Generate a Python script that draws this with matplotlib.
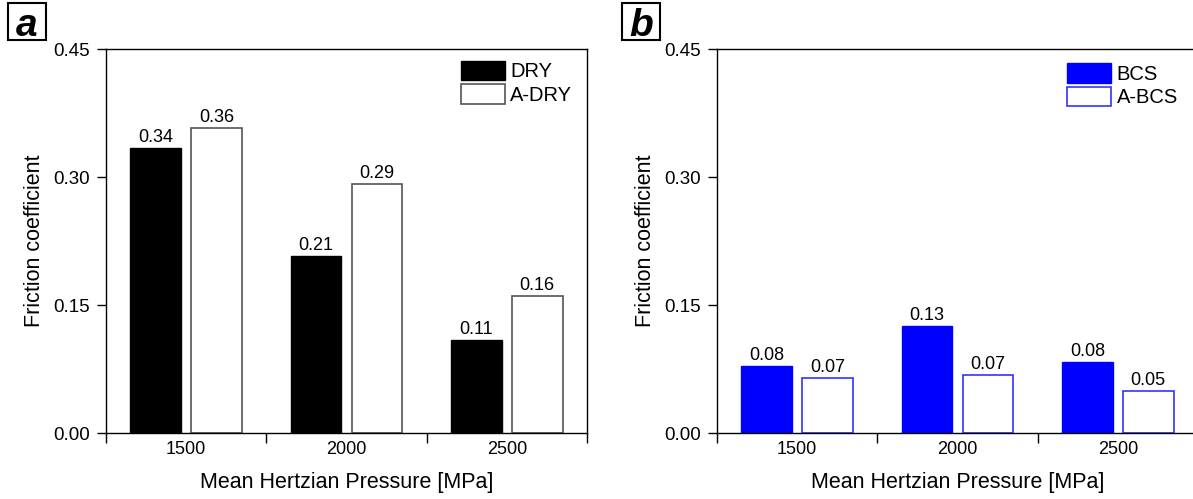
import numpy as np
import matplotlib.pyplot as plt
from matplotlib.patches import Rectangle
from matplotlib.ticker import FixedLocator, NullFormatter

plt.rcParams['font.family'] = ['Liberation Sans', 'DejaVu Sans']

# data
pressures = ['1500', '2000', '2500']

dry = [0.334, 0.207, 0.109]
a_dry = [0.357, 0.292, 0.160]
dry_labels = ['0.34', '0.21', '0.11']
a_dry_labels = ['0.36', '0.29', '0.16']

bcs = [0.0785, 0.125, 0.083]
a_bcs = [0.064, 0.068, 0.049]
bcs_labels = ['0.08', '0.13', '0.08']
a_bcs_labels = ['0.07', '0.07', '0.05']

yticks = [0.00, 0.15, 0.30, 0.45]

W, H = 1193, 499


def panel_letter(letter, x0, y0, x1, y1):
    # boxed panel letter, pixel coords from the top left
    fig.patches.append(Rectangle((x0 / W, 1 - y1 / H), (x1 - x0) / W, (y1 - y0) / H,
                                 transform=fig.transFigure, facecolor='white',
                                 edgecolor='black', linewidth=1.5))
    fig.text((x0 + x1) / 2 / W, 1 - (y0 + y1) / 2 / H, letter, fontsize=28,
             fontweight='bold', fontstyle='italic', ha='center', va='center_baseline')


def draw_panel(ax, v1, v2, l1, l2, name1, name2, fill, edge2, leg_xy):
    x = np.arange(len(pressures)) + 0.5
    w = 0.317
    off = 0.19
    b1 = ax.bar(x - off, v1, w, color=fill, edgecolor=fill, linewidth=1, label=name1)
    b2 = ax.bar(x + off, v2, w, color='white', edgecolor=edge2, linewidth=1.2, label=name2)
    for bars, labs in ((b1, l1), (b2, l2)):
        for r, s in zip(bars, labs):
            ax.annotate(s, (r.get_x() + r.get_width() / 2, r.get_height()),
                        xytext=(0, 1.5), textcoords='offset points',
                        ha='center', va='bottom', fontsize=13)

    ax.set_xlim(0, len(pressures))
    ax.set_ylim(0, 0.45)
    ax.set_yticks(yticks)
    ax.set_yticklabels([f'{t:.2f}' for t in yticks], fontsize=13.5)
    ax.tick_params(axis='y', direction='out', length=6.5, width=1, pad=5, right=False)

    # tick marks at group boundaries, labels at group centres
    ax.xaxis.set_major_locator(FixedLocator(np.arange(len(pressures) + 1)))
    ax.xaxis.set_major_formatter(NullFormatter())
    ax.xaxis.set_minor_locator(FixedLocator(x))
    ax.set_xticklabels(pressures, minor=True, fontsize=13)
    ax.tick_params(axis='x', which='major', direction='out', length=7.5, width=1, top=False)
    ax.tick_params(axis='x', which='minor', length=0, pad=6)

    for sp in ax.spines.values():
        sp.set_linewidth(1)

    ax.set_xlabel('Mean Hertzian Pressure [MPa]', fontsize=15.5, labelpad=10)
    ax.set_ylabel('Friction coefficient', fontsize=15.5)
    ax.yaxis.set_label_coords(-0.127, 0.5)

    ax.legend(loc='upper left', bbox_to_anchor=leg_xy, frameon=False,
              fontsize=14.5, handlelength=2.2, handleheight=1.1,
              labelspacing=0.15, handletextpad=0.25, borderpad=0, borderaxespad=0)


fig = plt.figure(figsize=(W / 100, H / 100), dpi=100)
ax_a = fig.add_axes([106 / W, 1 - 433 / H, 481 / W, 384 / H])
ax_b = fig.add_axes([717 / W, 1 - 433 / H, 481 / W, 384 / H])

draw_panel(ax_a, dry, a_dry, dry_labels, a_dry_labels, 'DRY', 'A-DRY',
           'black', '#555555', (0.738, 0.969))
draw_panel(ax_b, bcs, a_bcs, bcs_labels, a_bcs_labels, 'BCS', 'A-BCS',
           '#0000ff', '#3333ff', (0.728, 0.963))

panel_letter('a', 8, 3, 46, 40)
panel_letter('b', 622, 3, 660, 40)

fig.savefig('out.png', dpi=100)
